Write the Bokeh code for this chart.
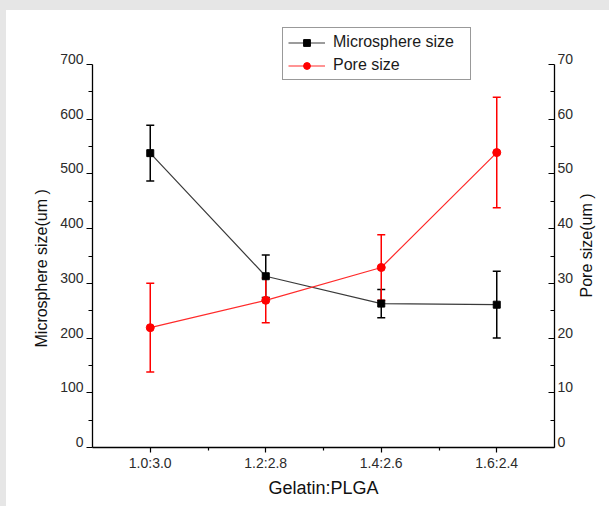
import math
from bokeh.plotting import figure
from bokeh.layouts import column, row
from bokeh.models import (Range1d, LinearAxis, FixedTicker, Whisker, ColumnDataSource,
                          Legend, LegendItem, TeeHead, Title, Spacer)
from bokeh.embed import file_html
from bokeh.resources import INLINE

# ---- data ----
ratios = ["1.0:3.0", "1.2:2.8", "1.4:2.6", "1.6:2.4"]
micro_size = [538, 313, 263, 261]
micro_err = [51, 39, 26, 61]
pore_size = [21.9, 26.9, 32.9, 53.9]
pore_err = [8.1, 4.1, 6.0, 10.1]
left_ticks = [0, 100, 200, 300, 400, 500, 600, 700]
left_minor = [50, 150, 250, 350, 450, 550, 650]
right_ticks = [0, 10, 20, 30, 40, 50, 60, 70]
right_minor = [5, 15, 25, 35, 45, 55, 65]

FONT = "Liberation Sans"
TXT = "#2b2b2b"
GRAY = "#e6e6e6"

# geometry: the axes run 0..700 / 0..70 over 383 px; the frame extends above them
AX_PX = 383
FRAME_H = 423
LEFT_MAX, RIGHT_MAX = 700, 70
top_l = LEFT_MAX * FRAME_H / AX_PX
top_r = RIGHT_MAX * FRAME_H / AX_PX
PORE_LABEL_START = 27.42   # right-axis value where the rotated right title begins

xs = list(range(len(ratios)))
src_m = ColumnDataSource(dict(
    x=xs, y=micro_size,
    up=[v + e for v, e in zip(micro_size, micro_err)],
    lo=[v - e for v, e in zip(micro_size, micro_err)]))
src_p = ColumnDataSource(dict(
    x=xs, y=pore_size,
    up=[v + e for v, e in zip(pore_size, pore_err)],
    lo=[v - e for v, e in zip(pore_size, pore_err)]))

p = figure(frame_width=462, frame_height=FRAME_H, output_backend="svg", toolbar_location=None,
           x_range=Range1d(-0.5, len(ratios) - 0.5), y_range=Range1d(0, top_l),
           min_border_left=86, min_border_right=55, min_border_top=14, min_border_bottom=59)
# tick labels sit slightly above their ticks in the reference: label-only axes on shifted ranges
p.extra_y_ranges = {"pore": Range1d(0, top_r),
                    "lbl_left": Range1d(-10, top_l - 10),
                    "lbl_right": Range1d(-1, top_r - 1),
                    "plabel": Range1d(-PORE_LABEL_START, top_r - PORE_LABEL_START)}
p.outline_line_color = None
p.xgrid.visible = False
p.ygrid.visible = False
p.background_fill_color = "white"
p.border_fill_color = "white"

# bottom axis
xa = p.xaxis[0]
xa.ticker = FixedTicker(ticks=xs, minor_ticks=[0.5, 1.5, 2.5])
xa.major_label_overrides = {i: r for i, r in enumerate(ratios)}
xa.axis_label = "Gelatin:PLGA"

# left axis: line + ticks
ya = p.yaxis[0]
ya.bounds = (0, LEFT_MAX)
ya.ticker = FixedTicker(ticks=left_ticks, minor_ticks=left_minor)
ya.major_label_overrides = {v: "" for v in left_ticks}
# left labels
yl = LinearAxis(y_range_name="lbl_left", bounds=(-40, 700),
                ticker=FixedTicker(ticks=left_ticks, minor_ticks=[]))
p.add_layout(yl, "left")
p.add_layout(Title(text="Microsphere size(um )", align="left", offset=100,
                   vertical_align="bottom", standoff=16, text_font=FONT,
                   text_font_size="16px", text_font_style="normal",
                   text_color="#111111"), "left")

# right axis: line + ticks
ra = LinearAxis(y_range_name="pore", bounds=(0, RIGHT_MAX))
ra.ticker = FixedTicker(ticks=right_ticks, minor_ticks=right_minor)
ra.major_label_overrides = {v: "" for v in right_ticks}
p.add_layout(ra, "right")
rl = LinearAxis(y_range_name="lbl_right", bounds=(0, 71.1),
                ticker=FixedTicker(ticks=right_ticks, minor_ticks=[]))
p.add_layout(rl, "right")
# right title, reading bottom-to-top, starting at PORE_LABEL_START
pl = LinearAxis(y_range_name="plabel", ticker=FixedTicker(ticks=[0], minor_ticks=[]))
pl.major_label_overrides = {0: "Pore size(um )"}
pl.major_label_orientation = math.pi / 2
p.add_layout(pl, "right")

for ax in (xa, ya, ra, yl, rl):
    ax.axis_line_color = "black"
    ax.axis_line_width = 1.3
    ax.major_tick_line_color = "black"
    ax.minor_tick_line_color = "black"
    ax.major_tick_line_width = 1.2
    ax.minor_tick_line_width = 1.2
    ax.major_label_text_font = FONT
    ax.major_label_text_font_size = "14px"
    ax.major_label_text_color = TXT
    ax.axis_label_text_font = FONT
    ax.axis_label_text_font_style = "normal"
    ax.axis_label_text_color = "#111111"
    ax.axis_label_text_font_size = "16px"

xa.major_tick_out = 5
xa.major_tick_in = 0
xa.minor_tick_out = 3
xa.minor_tick_in = 0
xa.major_label_standoff = 2
xa.axis_label_text_font_size = "18px"
xa.axis_label_standoff = 4

ya.major_tick_out = 6
ya.major_tick_in = 0
ya.minor_tick_out = 4
ya.minor_tick_in = 0
ya.major_label_standoff = 0

ra.major_tick_out = 0
ra.major_tick_in = 6
ra.minor_tick_out = 0
ra.minor_tick_in = 4
ra.major_label_standoff = 0

for ax in (yl, rl, pl):
    ax.axis_line_color = None
    ax.major_tick_line_color = None
    ax.minor_tick_line_color = None
    ax.major_tick_out = 0
    ax.major_tick_in = 0
    ax.minor_tick_out = 0
    ax.minor_tick_in = 0
    ax.major_label_standoff = 3

pl.major_label_standoff = 10
pl.major_label_text_font = FONT
pl.major_label_text_font_size = "16px"
pl.major_label_text_color = "#111111"

# microsphere series (left axis)
lm = p.line("x", "y", source=src_m, line_color="#3a3a3a", line_width=1.2)
p.add_layout(Whisker(source=src_m, base="x", upper="up", lower="lo",
                     line_color="black", line_width=1.5,
                     upper_head=TeeHead(size=8, line_color="black", line_width=1.5),
                     lower_head=TeeHead(size=8, line_color="black", line_width=1.5)))
sm = p.scatter("x", "y", source=src_m, marker="square", size=7, color="black")

# pore series (right axis)
lp = p.line("x", "y", source=src_p, line_color="#ff2a2a", line_width=1.2, y_range_name="pore")
p.add_layout(Whisker(source=src_p, base="x", upper="up", lower="lo", y_range_name="pore",
                     line_color="red", line_width=1.5,
                     upper_head=TeeHead(size=8, line_color="red", line_width=1.5),
                     lower_head=TeeHead(size=8, line_color="red", line_width=1.5)))
sp = p.scatter("x", "y", source=src_p, marker="circle", size=8, color="red", y_range_name="pore")

legend = Legend(items=[LegendItem(label="Microsphere size", renderers=[lm, sm]),
                       LegendItem(label="Pore size", renderers=[lp, sp])],
                location=(190, 367), orientation="vertical",
                label_text_font=FONT, label_text_font_size="16px", label_text_color="#1a1a1a",
                border_line_color="#333333", border_line_width=1.5,
                background_fill_color="white", background_fill_alpha=1,
                padding=5, margin=0, spacing=5, glyph_width=37, glyph_height=17,
                label_height=17, label_standoff=8, label_width=132)
p.add_layout(legend, "center")

page = column(Spacer(width=609, height=10, styles={"background-color": GRAY}),
              row(Spacer(width=6, height=496, styles={"background-color": GRAY}), p,
                  spacing=0),
              spacing=0)

open("out.html", "w").write(file_html(page, INLINE))
